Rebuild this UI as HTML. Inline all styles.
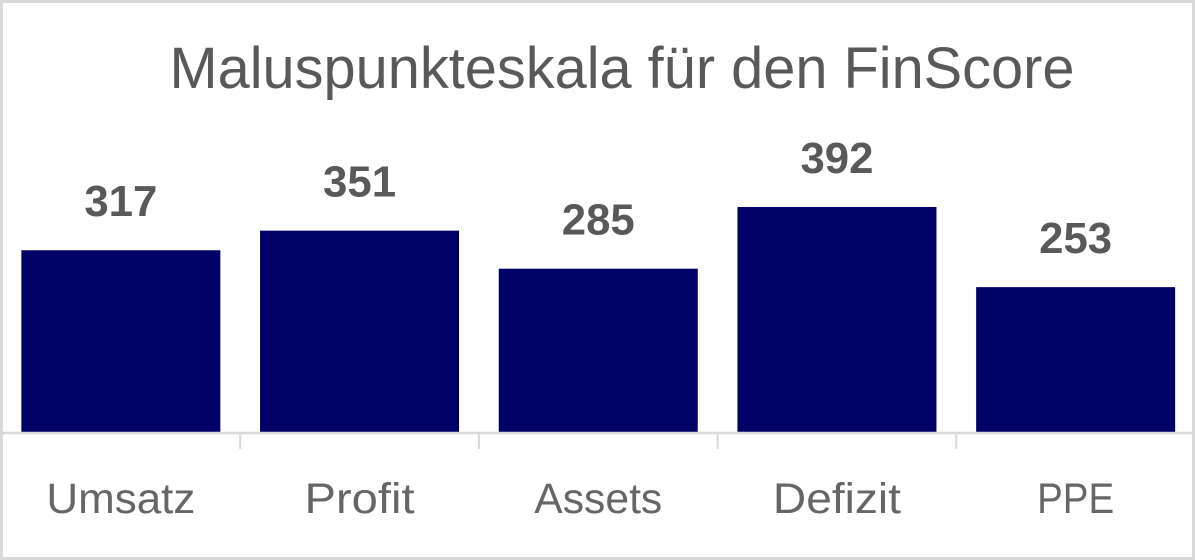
<!DOCTYPE html>
<html><head><meta charset="utf-8"><style>
html,body{margin:0;padding:0;background:#fff}
svg{display:block}
text{font-family:"Liberation Sans",sans-serif}
</style></head><body>
<svg id="chart" width="1195" height="560" viewBox="0 0 1195 560">
<rect x="1.5" y="1.5" width="1192" height="557" fill="#fff" stroke="#d9d9d9" stroke-width="3"/>
<text x="622" y="88" text-anchor="middle" font-size="58" fill="#595959" textLength="905" lengthAdjust="spacingAndGlyphs">Maluspunkteskala für den FinScore</text>
<g id="bars"></g>
</svg>
<script>
const categories = ["Umsatz","Profit","Assets","Defizit","PPE"];
const values = [317,351,285,392,253];
const valueLabels = ["317","351","285","392","253"];

const svg = document.getElementById('bars');
const NS = 'http://www.w3.org/2000/svg';
const plotLeft = 1.5, plotRight = 1195, baseY = 433;
const slot = (plotRight - plotLeft) / categories.length;
const barW = 199;
const pxPerUnit = 0.5765;
function xPos(i){ return plotLeft + slot * i; }
function yPos(v){ return baseY - v * pxPerUnit; }
const catWidths = [149,110,128,128,77];

categories.forEach((c,i)=>{
  const x0 = xPos(i) + (slot - barW)/2;
  const r = document.createElementNS(NS,'rect');
  
  
  r.setAttribute('x', x0); r.setAttribute('y', yPos(values[i]));
  r.setAttribute('width', barW); r.setAttribute('height', baseY - yPos(values[i]));
  r.setAttribute('fill', '#000066');
  svg.appendChild(r);

  const t = document.createElementNS(NS,'text');
  
  
  t.setAttribute('x', xPos(i) + slot/2); t.setAttribute('y', yPos(values[i]) - 34);
  t.setAttribute('text-anchor','middle'); t.setAttribute('font-size','44');
  t.setAttribute('font-weight','bold'); t.setAttribute('fill','#595959');
  t.setAttribute('textLength','73'); t.setAttribute('lengthAdjust','spacingAndGlyphs');
  t.textContent = valueLabels[i];
  svg.appendChild(t);

  const l = document.createElementNS(NS,'text');
  
  
  l.setAttribute('x', xPos(i) + slot/2); l.setAttribute('y', 513);
  l.setAttribute('text-anchor','middle'); l.setAttribute('font-size','43');
  l.setAttribute('fill','#666666');
  l.setAttribute('textLength', catWidths[i]); l.setAttribute('lengthAdjust','spacingAndGlyphs');
  l.textContent = c;
  svg.appendChild(l);

  if (i > 0) {
    const tk = document.createElementNS(NS,'line');
    
    
    tk.setAttribute('x1', xPos(i)); tk.setAttribute('x2', xPos(i));
    tk.setAttribute('y1', baseY); tk.setAttribute('y2', 449);
    tk.setAttribute('stroke','#d9d9d9'); tk.setAttribute('stroke-width','2');
    svg.appendChild(tk);
  }
});
const ax = document.createElementNS(NS,'line');


ax.setAttribute('x1', 3); ax.setAttribute('x2', 1192);
ax.setAttribute('y1', baseY); ax.setAttribute('y2', baseY);
ax.setAttribute('stroke','#d9d9d9'); ax.setAttribute('stroke-width','2.5');
svg.appendChild(ax);
</script>
</body></html>
